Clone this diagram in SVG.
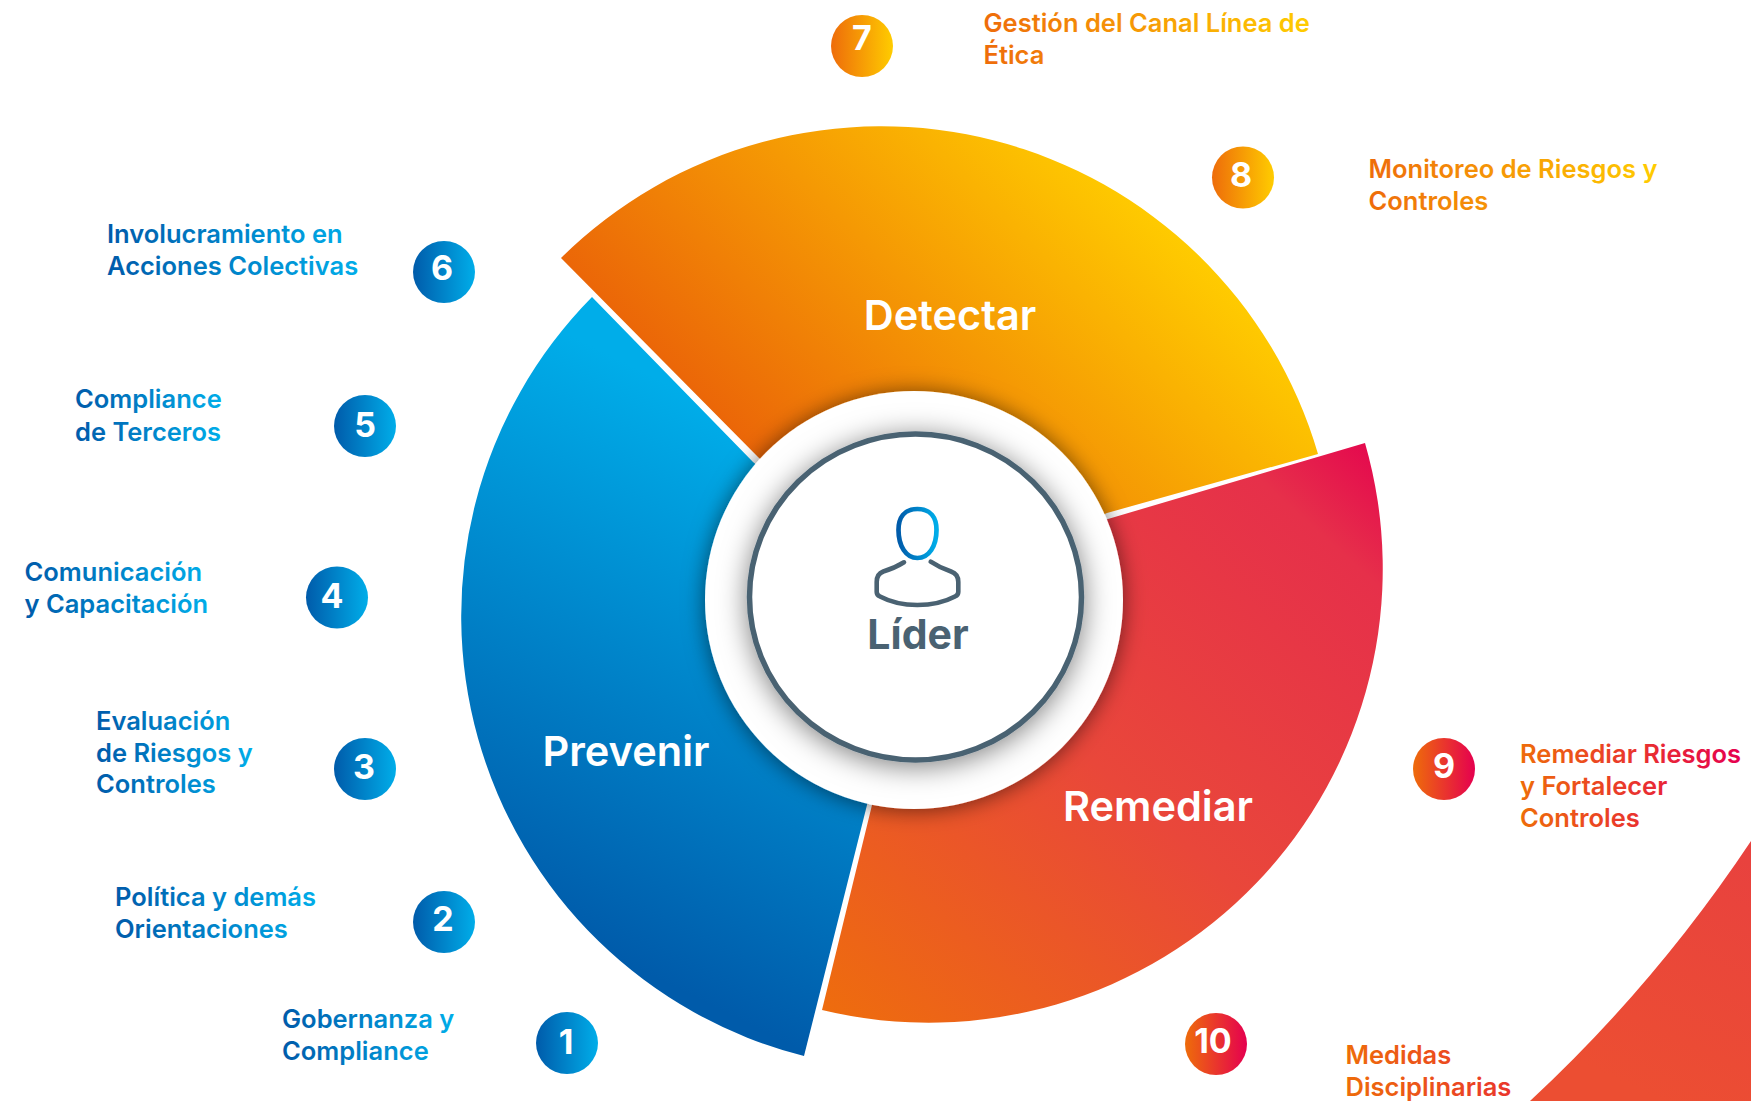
<svg xmlns="http://www.w3.org/2000/svg" width="1751" height="1101" viewBox="0 0 1751 1101">
<style>
text{font-family:"Inter","Liberation Sans",sans-serif}
.lbl{font-size:25.5px;font-weight:600}
.num{font-size:34px;font-weight:700;fill:#fff;text-anchor:middle}
.seg{font-size:41.500px;font-weight:600;fill:#fff;text-anchor:middle}
.b{fill:url(#gB)}.o{fill:url(#gO)}.r{fill:url(#gR)}.r2{fill:url(#gR2)}
</style>
<defs>
<linearGradient id="gB"><stop offset="0" stop-color="#005BAA"/><stop offset="1" stop-color="#00ADE9"/></linearGradient>
<linearGradient id="gO"><stop offset="0" stop-color="#EE6C0A"/><stop offset="1" stop-color="#FFCC00"/></linearGradient>
<linearGradient id="gR"><stop offset="0" stop-color="#EE6C0A"/><stop offset="1" stop-color="#E5004F"/></linearGradient>
<linearGradient id="gR2" x2="2"><stop offset="0" stop-color="#EE6C0A"/><stop offset="1" stop-color="#E5004F"/></linearGradient>
<linearGradient id="gPrev" gradientUnits="userSpaceOnUse" x1="640" y1="370" x2="400" y2="850"><stop offset="0" stop-color="#00ADE9"/><stop offset="1" stop-color="#005BAA"/></linearGradient>
<linearGradient id="gDet" gradientUnits="userSpaceOnUse" x1="650" y1="350" x2="975" y2="25"><stop offset="0" stop-color="#EB6608"/><stop offset="1" stop-color="#FFCC00"/></linearGradient>
<linearGradient id="gRem" gradientUnits="userSpaceOnUse" x1="850" y1="1030" x2="1385" y2="430"><stop offset="0" stop-color="#EE6C0E"/><stop offset=".45" stop-color="#E9473A"/><stop offset=".85" stop-color="#E6304A"/><stop offset="1" stop-color="#E4004F"/></linearGradient>
<linearGradient id="gCorner" x1="1" y1="0" x2="0.6" y2="1"><stop offset="0" stop-color="#E8413F"/><stop offset="1" stop-color="#EC4E32"/></linearGradient>
<filter id="sh1" x="-20%" y="-20%" width="140%" height="140%"><feDropShadow dx="0" dy="1" stdDeviation="11" flood-color="#000" flood-opacity=".55"/></filter>
<filter id="sh2" x="-20%" y="-20%" width="140%" height="140%"><feDropShadow dx="0" dy="4" stdDeviation="14" flood-color="#000" flood-opacity=".5"/></filter>
</defs>
<rect width="1751" height="1101" fill="#fff"/>
<path id="corner" d="M1751 841Q1655 985 1530 1101L1751 1101Z" fill="url(#gCorner)"/>
<g id="segment-prevenir"><path d="M592 297A454 454 0 0 0 804 1056L867 805L915 600L753 462Z" fill="url(#gPrev)"/><text class="seg" x="626" y="766">Prevenir</text></g>
<g id="segment-detectar"><path d="M561 258A455 455 0 0 1 1318 454L1107 513L915 600L758 457Z" fill="url(#gDet)"/><text class="seg" x="950" y="330">Detectar</text></g>
<g id="segment-remediar"><path d="M1365 443A454 454 0 0 1 822 1010L872 805L915 600L1108 519Z" fill="url(#gRem)"/><text class="seg" x="1158" y="821">Remediar</text></g>
<g id="lider">
<circle cx="914" cy="600" r="209" fill="#fff" filter="url(#sh1)"/>
<ellipse cx="915.5" cy="597" rx="166" ry="163" fill="#fff" stroke="#4A6272" stroke-width="5.500" filter="url(#sh2)"/>
<path d="M917.4 509C931 509 936.5 518 936.5 530C936.5 546 929 558 917.4 558C906 558 898.5 546 898.5 530C898.5 518 904 509 917.4 509Z" fill="none" stroke="url(#gB)" stroke-width="4.7"/>
<path d="M904 562.3Q895 568 883.3 571.5Q876.7 574 876.7 582L876.7 592Q876.7 595 880 596.5Q896 605 917.3 605Q939 605 955 596.5Q958.3 595 958.3 592L958.3 582Q958.3 574 951 571.5Q940 568 930.7 561.7" fill="none" stroke="#4A6272" stroke-width="4.6" stroke-linecap="round" stroke-linejoin="round"/>
<text x="918" y="649" text-anchor="middle" font-size="41" font-weight="700" fill="#4A6272">Líder</text>
</g>
<g id="item-1"><circle cx="567" cy="1043" r="31" fill="url(#gB)"/><text class="num" x="566" y="1054">1</text><text class="lbl b" y="1028"><tspan x="282">Gobernanza y</tspan><tspan x="282" y="1060">Compliance</tspan></text></g>
<g id="item-2"><circle cx="444" cy="922" r="31" fill="url(#gB)"/><text class="num" x="443" y="931">2</text><text class="lbl b" y="906"><tspan x="115">Política y demás</tspan><tspan x="115" y="938">Orientaciones</tspan></text></g>
<g id="item-3"><circle cx="365" cy="769" r="31" fill="url(#gB)"/><text class="num" x="364" y="779">3</text><text class="lbl b" y="730"><tspan x="96">Evaluación</tspan><tspan x="96" y="762">de Riesgos y</tspan><tspan x="96" y="793">Controles</tspan></text></g>
<g id="item-4"><circle cx="337" cy="597.500" r="31" fill="url(#gB)"/><text class="num" x="332" y="608">4</text><text class="lbl b" y="581"><tspan x="24.500">Comunicación</tspan><tspan x="24.500" y="613">y Capacitación</tspan></text></g>
<g id="item-5"><circle cx="365" cy="426" r="31" fill="url(#gB)"/><text class="num" x="365" y="437">5</text><text class="lbl b" y="408"><tspan x="75">Compliance</tspan><tspan x="75" y="441">de Terceros</tspan></text></g>
<g id="item-6"><circle cx="444" cy="272" r="31" fill="url(#gB)"/><text class="num" x="442" y="280">6</text><text class="lbl b" y="243"><tspan x="107">Involucramiento en</tspan><tspan x="107" y="275">Acciones Colectivas</tspan></text></g>
<g id="item-7"><circle cx="862" cy="46" r="31" fill="url(#gO)"/><text class="num" x="862" y="50">7</text><text class="lbl o" y="32"><tspan x="983.500">Gestión del Canal Línea de</tspan><tspan x="983.500" y="64">Ética</tspan></text></g>
<g id="item-8"><circle cx="1243" cy="177.500" r="31" fill="url(#gO)"/><text class="num" x="1241" y="187">8</text><text class="lbl o" y="178"><tspan x="1368.500">Monitoreo de Riesgos y</tspan><tspan x="1368.500" y="210">Controles</tspan></text></g>
<g id="item-9"><circle cx="1444" cy="769" r="31" fill="url(#gR)"/><text class="num" x="1444" y="778">9</text><text class="lbl r" y="763"><tspan x="1520">Remediar Riesgos</tspan><tspan x="1520" y="795">y Fortalecer</tspan><tspan x="1520" y="827">Controles</tspan></text></g>
<g id="item-10"><circle cx="1216" cy="1044" r="31" fill="url(#gR)"/><text class="num" x="1213" y="1053">10</text><text class="lbl r2" y="1064"><tspan x="1345.500">Medidas</tspan><tspan x="1345.500" y="1096">Disciplinarias</tspan></text></g>
</svg>
